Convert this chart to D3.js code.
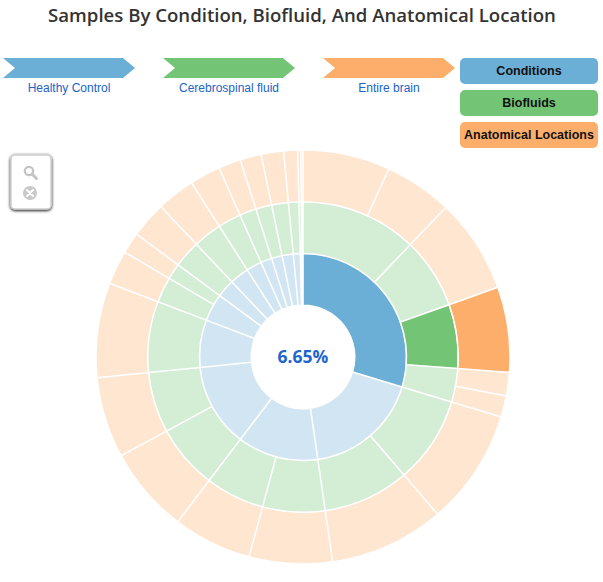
<!DOCTYPE html>
<html>
<head>
<meta charset="utf-8">
<script src="https://cdn.jsdelivr.net/npm/d3@7"></script>
<style>
  body { margin: 0; background: #fff; font-family: "Liberation Sans", Arial, sans-serif; }
</style>
</head>
<body>
<script>
const w = 603;
const h = 582;

// levels of the sunburst, inner to outer
const levels = ["Conditions", "Biofluids", "Anatomical Locations"];

// condition, biofluid, anatomical location, sample count
const samples = [
  ["Healthy Control", "Serum", "Venous blood", 82],
  ["Healthy Control", "Serum", "Whole blood", 64],
  ["Healthy Control", "Plasma", "Venous blood", 89],
  ["Healthy Control", "Cerebrospinal fluid", "Entire brain", 80],
  ["Healthy Control", "Saliva", "Salivary gland", 22],
  ["Healthy Control", "Saliva", "Oral cavity", 20],
  ["Colorectal Cancer", "Serum", "Venous blood", 109],
  ["Colorectal Cancer", "Plasma", "Venous blood", 108],
  ["Alzheimer's Disease", "Cerebrospinal fluid", "Entire brain", 78],
  ["Alzheimer's Disease", "Serum", "Venous blood", 74],
  ["Parkinson's Disease", "Cerebrospinal fluid", "Entire brain", 81],
  ["Parkinson's Disease", "Serum", "Venous blood", 76],
  ["Gastric Cancer", "Serum", "Venous blood", 89],
  ["Pancreatic Cancer", "Plasma", "Venous blood", 32],
  ["Pancreatic Cancer", "Bile", "Gallbladder", 20],
  ["Subarachnoid Hemorrhage", "Cerebrospinal fluid", "Entire brain", 34],
  ["Prostate Cancer", "Urine", "Urinary bladder", 36],
  ["Glioblastoma", "Serum", "Venous blood", 29],
  ["Ulcerative Colitis", "Plasma", "Venous blood", 21],
  ["Breast Cancer", "Serum", "Venous blood", 20],
  ["Coronary Artery Disease", "Plasma", "Venous blood", 21],
  ["Pregnancy", "Plasma", "Venous blood", 13],
  ["Colon Carcinoma", "Culture media", "Colon", 3],
  ["Melanoma", "Serum", "Venous blood", 2]
];

// the path that is hovered
const sequence = ["Healthy Control", "Cerebrospinal fluid", "Entire brain"];

const colors = ["#6baed6", "#74c476", "#fdae6b"];

const svg = d3.select("body").append("svg").attr("width", w).attr("height", h);

// title
svg
  .append("text")
  .attr("x", 302)
  .attr("y", 22)
  .attr("text-anchor", "middle")
  .style("font-family", "'Open Sans', sans-serif")
  .style("font-weight", 600)
  .style("font-size", "18.6px")
  .style("fill", "#333")
  .text("Samples By Condition, Biofluid, And Anatomical Location");

// build hierarchy from the rows
const grouped = d3.rollup(
  samples,
  (v) => d3.sum(v, (d) => d[3]),
  (d) => d[0],
  (d) => d[1],
  (d) => d[2]
);
const root = d3
  .hierarchy([null, grouped], ([, v]) => (v instanceof Map ? Array.from(v) : null))
  .sum(([, v]) => (v instanceof Map ? 0 : v));

const radius = 207;
d3.partition().size([2 * Math.PI, radius])(root);

const arc = d3
  .arc()
  .startAngle((d) => d.x0)
  .endAngle((d) => d.x1)
  .innerRadius((d) => d.y0)
  .outerRadius((d) => d.y1);

const cx = 303;
const cy = 357;
const g = svg.append("g").attr("transform", "translate(" + cx + "," + cy + ")");

// is node on the highlighted sequence?
function onPath(d) {
  const names = d.ancestors().reverse().slice(1).map((a) => a.data[0]);
  return names.every((n, i) => n === sequence[i]);
}

g.selectAll("path")
  .data(root.descendants().filter((d) => d.depth > 0))
  .enter()
  .append("path")
  .attr("d", arc)
  .style("fill", (d) => colors[d.depth - 1])
  .style("opacity", (d) => (onPath(d) ? 1 : 0.3))
  .style("stroke", "#fff")
  .style("stroke-width", 1.5);

// percentage in the centre
const leaf = root
  .leaves()
  .find((d) => onPath(d) && d.depth === sequence.length);
const pct = ((100 * leaf.value) / root.value).toFixed(2) + "%";
g.append("text")
  .attr("text-anchor", "middle")
  .attr("dy", "0.35em")
  .style("font-family", "'Open Sans', sans-serif")
  .style("font-weight", 700)
  .style("font-size", "17.5px")
  .style("fill", "#1f66cc")
  .text(pct);

// breadcrumbs
const bw = 120, bh = 20, bt = 12, bstep = 160;
function crumbPoints() {
  return [
    [0, 0], [bw, 0], [bw + bt, bh / 2], [bw, bh], [0, bh], [bt, bh / 2]
  ].join(" ");
}
const crumbs = svg
  .append("g")
  .attr("transform", "translate(3,58)")
  .selectAll("g")
  .data(sequence)
  .enter()
  .append("g")
  .attr("transform", (d, i) => "translate(" + i * bstep + ",0)");
crumbs
  .append("polygon")
  .attr("points", crumbPoints())
  .style("fill", (d, i) => colors[i]);
crumbs
  .append("text")
  .attr("x", (bw + bt) / 2)
  .attr("y", bh + 14)
  .attr("text-anchor", "middle")
  .style("font-size", "12px")
  .style("fill", "#2163c8")
  .text((d) => d);

// legend
const legend = svg
  .append("g")
  .attr("transform", "translate(460,58)")
  .selectAll("g")
  .data(levels)
  .enter()
  .append("g")
  .attr("transform", (d, i) => "translate(0," + i * 32 + ")");
legend
  .append("rect")
  .attr("width", 138)
  .attr("height", 26)
  .attr("rx", 5)
  .style("fill", (d, i) => colors[i]);
legend
  .append("text")
  .attr("x", 69)
  .attr("y", 13)
  .attr("dy", "0.35em")
  .attr("text-anchor", "middle")
  .style("font-size", "12.5px")
  .style("font-weight", 600)
  .style("fill", "#111")
  .text((d) => d);

// zoom widget
const defs = svg.append("defs");
const f = defs.append("filter").attr("id", "shadow").attr("x", "-30%").attr("y", "-30%").attr("width", "160%").attr("height", "160%");
f.append("feGaussianBlur").attr("in", "SourceAlpha").attr("stdDeviation", 1.5);
f.append("feOffset").attr("dx", 0).attr("dy", 1).attr("result", "b");
const fm = f.append("feMerge");
fm.append("feMergeNode").attr("in", "b");
fm.append("feMergeNode").attr("in", "SourceGraphic");

const zb = svg.append("g").attr("transform", "translate(11,155)");
zb.append("rect")
  .attr("width", 40)
  .attr("height", 54)
  .attr("rx", 4)
  .style("fill", "#fff")
  .style("stroke", "#d0d0d0")
  .style("stroke-width", 1.5)
  .attr("filter", "url(#shadow)");
zb.append("circle").attr("cx", 18).attr("cy", 16).attr("r", 4.2)
  .style("fill", "none").style("stroke", "#c4c4c4").style("stroke-width", 2.2);
zb.append("line").attr("x1", 21).attr("y1", 19).attr("x2", 25.5).attr("y2", 23.5)
  .style("stroke", "#c4c4c4").style("stroke-width", 3).style("stroke-linecap", "round");
zb.append("circle").attr("cx", 19).attr("cy", 38).attr("r", 7).style("fill", "#c8c8c8");
zb.append("path").attr("d", "M16,35L22,41M22,35L16,41")
  .style("stroke", "#fff").style("stroke-width", 2).style("stroke-linecap", "round");
</script>
</body>
</html>
